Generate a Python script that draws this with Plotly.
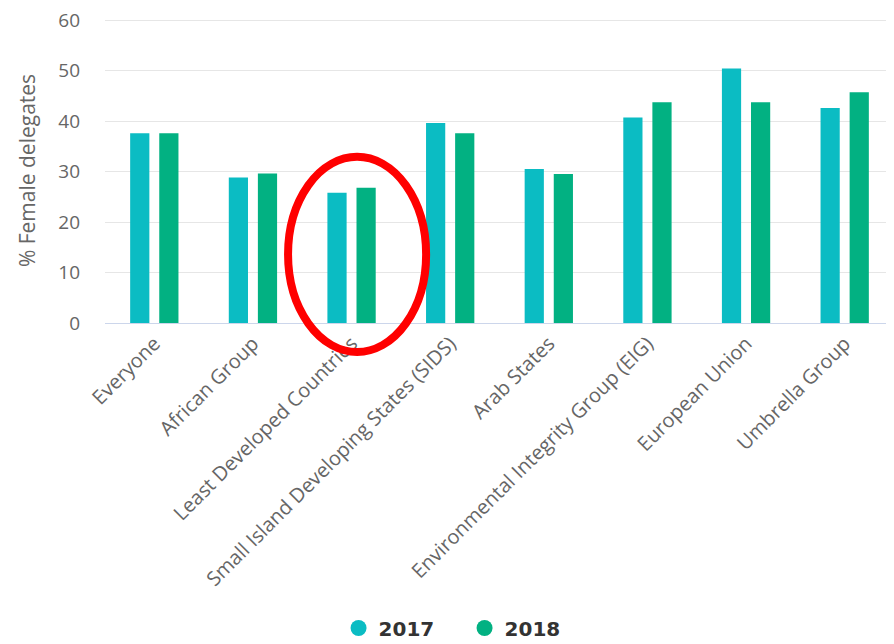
import plotly.graph_objects as go

categories = ["Everyone", "African Group", "Least Developed Countries",
              "Small Island Developing States (SIDS)", "Arab States",
              "Environmental Integrity Group (EIG)", "European Union", "Umbrella Group"]
values_2017 = [37.6, 28.8, 25.8, 39.6, 30.5, 40.7, 50.4, 42.6]
values_2018 = [37.6, 29.6, 26.8, 37.6, 29.5, 43.7, 43.7, 45.7]
series_names = ["2017", "2018"]
colors = ["#0bbcc3", "#02b182"]

fig = go.Figure()
for name, vals, col in zip(series_names, [values_2017, values_2018], colors):
    fig.add_trace(go.Bar(x=categories, y=vals, name=name, marker_color=col,
                         marker_line_width=0, showlegend=False))
for name, col in zip(series_names, colors):
    fig.add_trace(go.Scatter(x=[None], y=[None], mode="markers", name=name,
                             marker=dict(symbol="circle", size=20, color=col)))

fig.update_layout(
    width=886, height=636,
    margin=dict(l=97, r=0, t=10, b=321, autoexpand=False),
    plot_bgcolor="white", paper_bgcolor="white",
    barmode="group", bargap=0.41, bargroupgap=0.34,
    font=dict(family="Open Sans", color="#666666"),
    legend=dict(orientation="h", x=0.296, xanchor="left", y=-1.0, yanchor="middle",
                font=dict(family="DejaVu Sans", size=20, color="#333333", weight="bold"),
                itemsizing="trace", itemwidth=30, entrywidth=81),
    shapes=[dict(type="circle", xref="paper", yref="paper",
                 x0=0.232, x1=0.407, y0=-0.095, y1=0.545,
                 line=dict(color="#ff0000", width=8))],
)
fig.update_xaxes(tickangle=-45, tickfont=dict(size=20, color="#666666"),
                 showgrid=False, showline=True, linecolor="#ccd6eb", linewidth=1,
                 automargin=False)
fig.update_yaxes(range=[0, 60.4], tickvals=[0, 10, 20, 30, 40, 50, 60],
                 gridcolor="#e6e6e6", gridwidth=1, ticklabeloverflow="allow",
                 zeroline=False, tickfont=dict(size=19, color="#666666"),
                 ticklabelstandoff=24,
                 title=dict(text="% Female delegates", font=dict(size=21, color="#666666"), standoff=16),
                 automargin=False)
fig.write_html("out.html")
